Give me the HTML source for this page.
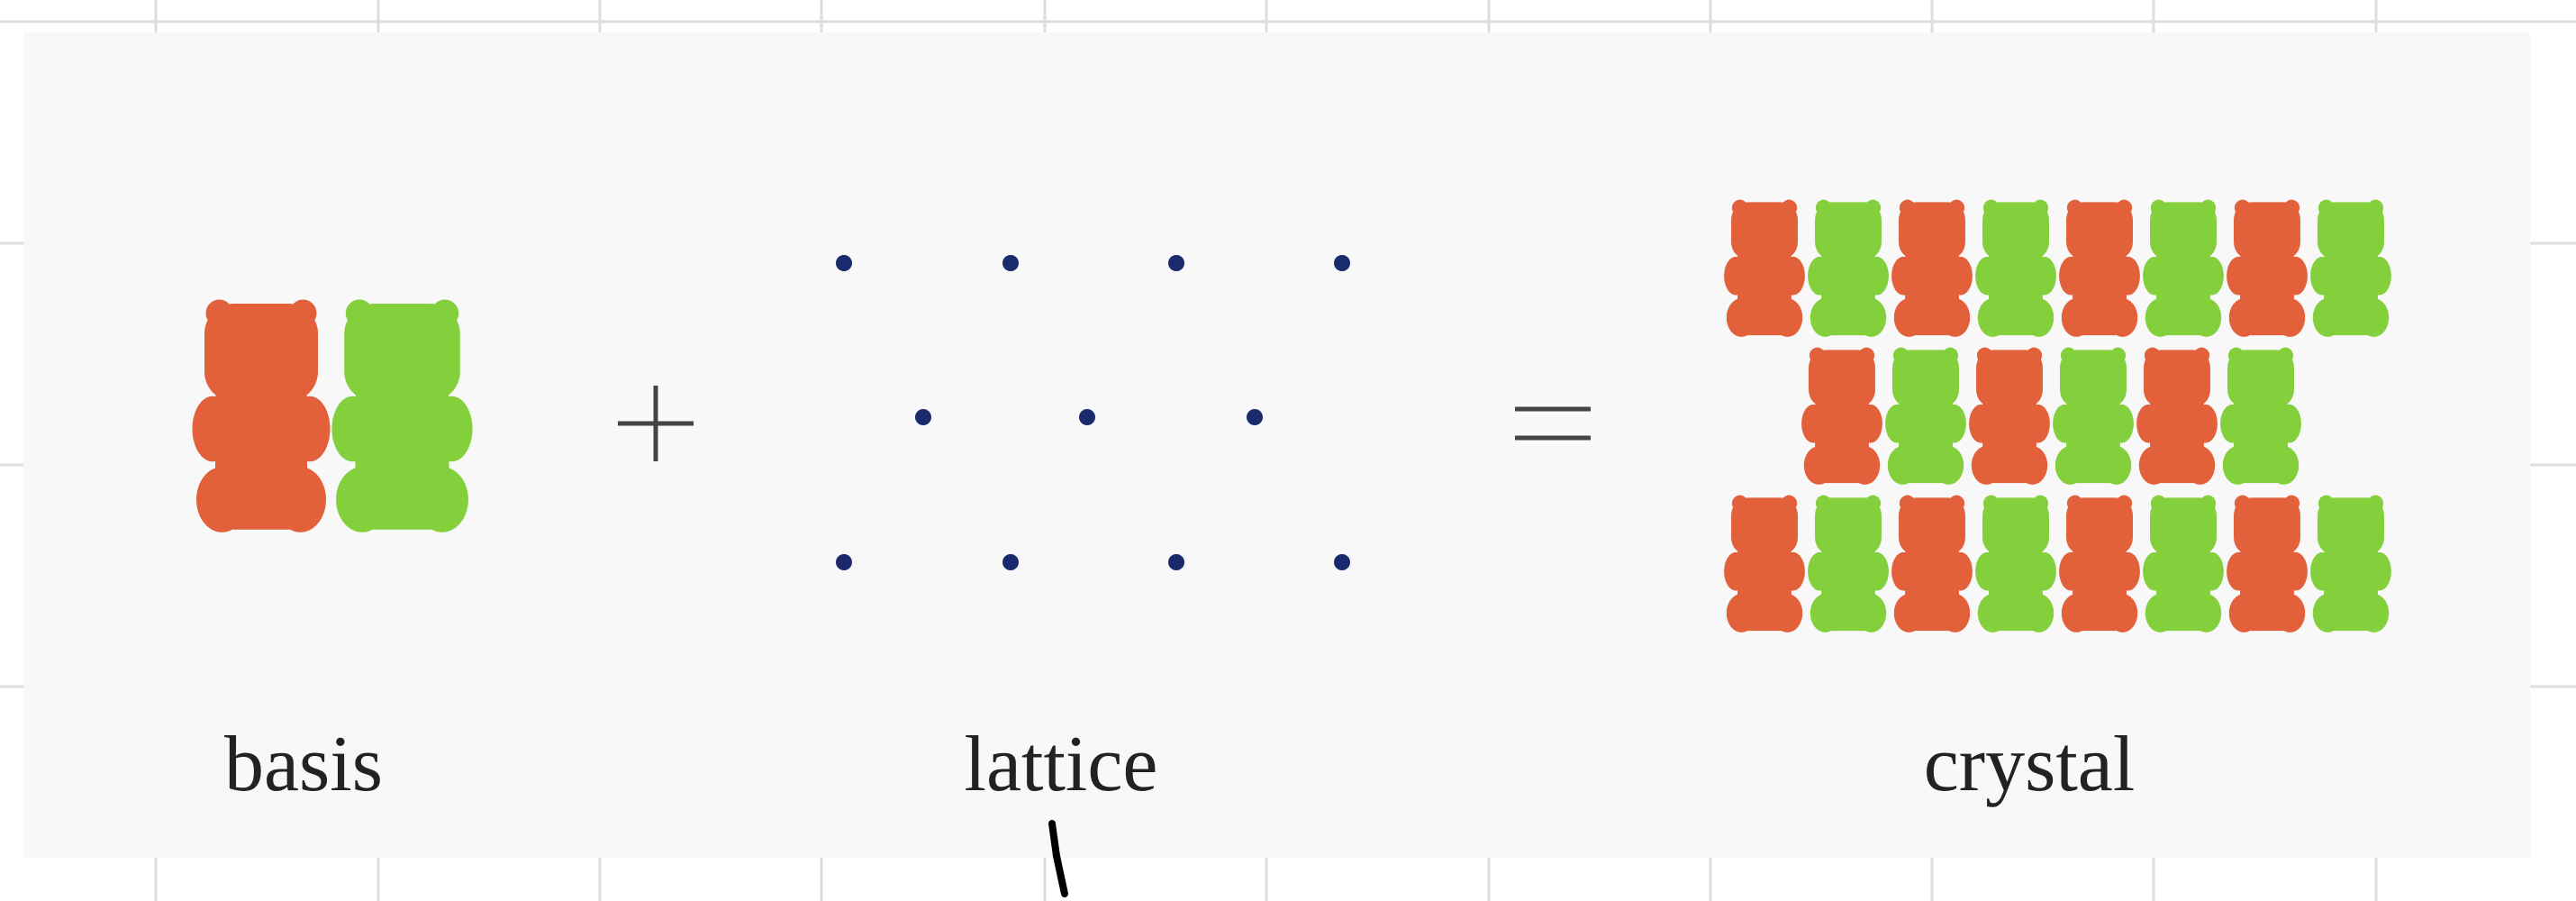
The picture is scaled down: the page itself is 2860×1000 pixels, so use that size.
<!DOCTYPE html>
<html><head><meta charset="utf-8"><style>
html,body{margin:0;padding:0;width:2860px;height:1000px;overflow:hidden;background:#fff}
.lbl{position:absolute;font-family:"Liberation Serif",serif;font-size:88px;color:#222;transform:translateX(-50%)}
</style></head><body>
<svg width="2860" height="1000" style="position:absolute;left:0;top:0">
<defs>
<g id="bear">
<circle cx="19" cy="13" r="10"/><circle cx="81" cy="13" r="10"/>
<rect x="8" y="6" width="84" height="72" rx="22"/>
<rect x="16" y="62" width="68" height="110" rx="14"/>
<ellipse cx="14" cy="98" rx="15" ry="24"/><ellipse cx="86" cy="98" rx="15" ry="24"/>
<ellipse cx="21" cy="150" rx="19" ry="24"/><ellipse cx="79" cy="150" rx="19" ry="24"/>
</g>
</defs>
<g id="grid" stroke="#dedede" stroke-width="3"></g>
<rect x="26" y="36" width="2783" height="916" fill="#f8f8f8"/>
<g id="basis">
<use href="#bear" fill="#e2603a" transform="translate(215,328) scale(1.5,1.51)"/>
<use href="#bear" fill="#84d03c" transform="translate(370,328) scale(1.53,1.51)"/>
</g>
<g stroke="#444" stroke-width="5">
<line x1="686" y1="470" x2="770" y2="470"/><line x1="728" y1="428" x2="728" y2="512"/>
</g>
<g stroke="#444" stroke-width="5">
<line x1="1682" y1="454" x2="1766" y2="454"/><line x1="1682" y1="486" x2="1766" y2="486"/>
</g>
<g id="lattice" fill="#1a2a6c"></g>
<g id="crystal"></g>
<path d="M1168 914 L1173 950 L1182 992" stroke="#000" stroke-width="8" fill="none" stroke-linecap="round"/>
</svg>
<div class="lbl" style="left:337px;top:798px">basis</div>
<div class="lbl" style="left:1178px;top:798px">lattice</div>
<div class="lbl" style="left:2253px;top:798px">crystal</div>
<script>
const NS="http://www.w3.org/2000/svg";
const gridX=[173,420,666,912,1160,1406,1653,1899,2145,2391,2638];
const gridY=[24,270,516,762];
const latticeRows=[[937,1122,1306,1490],[1025,1207,1393],[937,1122,1306,1490]];
const latticeY=[292,463,624];
const crystalCounts=[8,6,8];
const crystalStart=[1915,2001,1915];
const crystalY=[219,383,547];
const g=document.getElementById('grid');
gridX.forEach(x=>{const l=document.createElementNS(NS,'line');l.setAttribute('x1',x);l.setAttribute('x2',x);l.setAttribute('y1',0);l.setAttribute('y2',1000);

g.appendChild(l);});
gridY.forEach(y=>{const l=document.createElementNS(NS,'line');l.setAttribute('x1',0);l.setAttribute('x2',2860);l.setAttribute('y1',y);l.setAttribute('y2',y);

g.appendChild(l);});
const lat=document.getElementById('lattice');
latticeRows.forEach((row,i)=>row.forEach(x=>{const c=document.createElementNS(NS,'circle');c.setAttribute('cx',x);c.setAttribute('cy',latticeY[i]);c.setAttribute('r',9);

lat.appendChild(c);}));
const cr=document.getElementById('crystal');
crystalCounts.forEach((n,i)=>{for(let k=0;k<n;k++){const u=document.createElementNS(NS,'use');u.setAttribute('href','#bear');
u.setAttribute('fill',k%2?'#84d03c':'#e2603a');
u.setAttribute('transform','translate('+(crystalStart[i]+k*93)+','+crystalY[i]+') scale(0.88,0.89)');

cr.appendChild(u);}});
</script>
</body></html>
